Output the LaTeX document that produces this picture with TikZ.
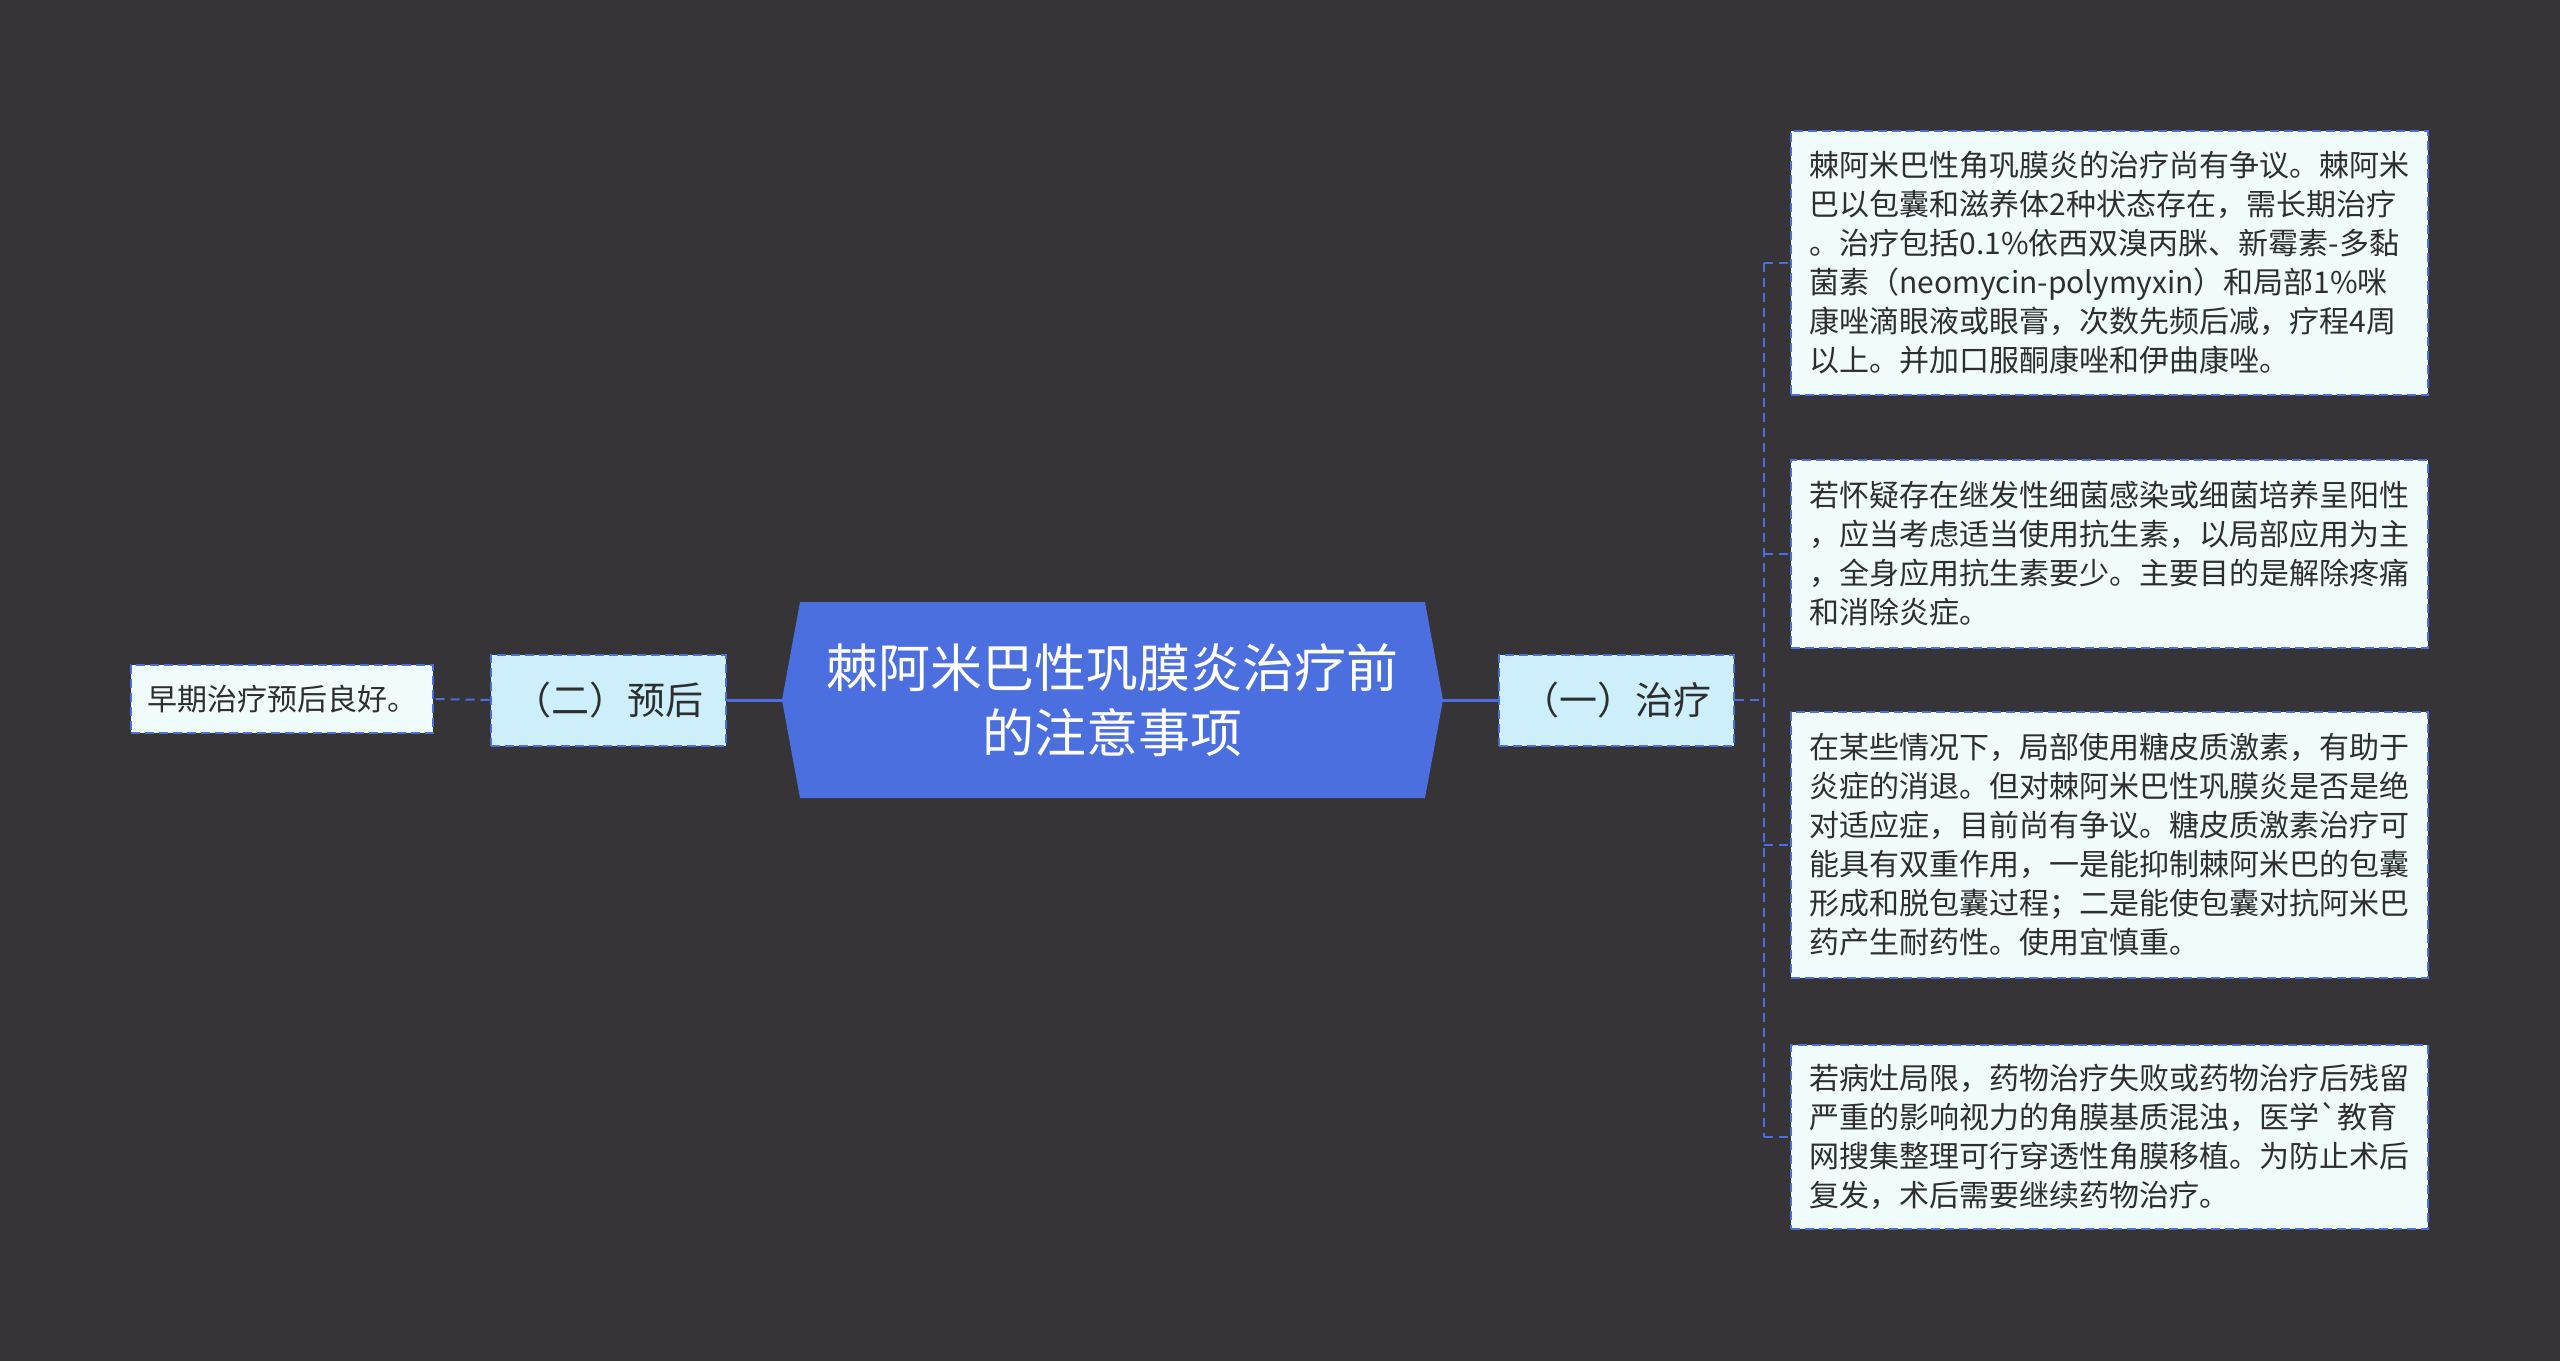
\documentclass[tikz,border=0pt]{standalone}
\usepackage{fontspec}
\setmainfont{Noto Sans CJK SC}
\newfontfamily\rawfont{Noto Sans CJK SC}
\usetikzlibrary{calc}
\definecolor{bg}{HTML}{363436}
\definecolor{lineblue}{HTML}{4A6EDD}
\definecolor{centerblue}{HTML}{4B6FDF}
\definecolor{mainfill}{HTML}{CDEFFC}
\definecolor{leaffill}{HTML}{F0FBFC}
\definecolor{txt}{HTML}{2E2E2E}
\tikzset{
  dashborder/.style={draw=lineblue, line width=2pt, dash pattern=on 9pt off 5pt},
  mainbox/.style={dashborder, fill=mainfill, minimum width=235pt, minimum height=91pt, inner sep=0pt, text=txt, font=\fontsize{38}{46}\selectfont},
  leafbox/.style={dashborder, fill=leaffill, minimum width=637pt, inner sep=0pt, text=txt, align=left, font=\fontsize{30}{39}\selectfont},
  solidconn/.style={draw=lineblue, line width=3pt},
  dashconn/.style={draw=lineblue, line width=2pt, dash pattern=on 9pt off 6pt},
}
\begin{document}
\begin{tikzpicture}[x=1pt,y=-1pt]
\fill[bg] (0,0) rectangle (2560,1361);
\useasboundingbox (0,0) rectangle (2560,1361);

% center hexagon
\fill[centerblue] (800,602) -- (1425,602) -- (1443,700) -- (1425,798) -- (800,798) -- (782,700) -- cycle;
\node[minimum width=661pt, minimum height=196pt, inner sep=0pt, text=white, align=center,
      font=\fontsize{52}{65}\selectfont] (c) at (1112.5,700)
  {棘阿米巴性巩膜炎治疗前\\的注意事项};

% main branches
\node[mainbox] (t2) at (608,700) {（二）预后};
\node[mainbox] (t1) at (1616.5,700) {（一）治疗};

% left leaf
\node[leafbox, minimum width=302pt, minimum height=68pt] (l0) at (282,699) {早期治疗预后良好。};

% right leaves
\node[leafbox, minimum height=264pt] (b1) at (2109.5,263) {棘阿米巴性角巩膜炎的治疗尚有争议。棘阿米\\
巴以包囊和滋养体2种状态存在，需长期治疗\\
。治疗包括0.1\%依西双溴丙脒、新霉素-多黏\\
菌素（neomycin-polymyxin）和局部1\%咪\\
康唑滴眼液或眼膏，次数先频后减，疗程4周\\
以上。并加口服酮康唑和伊曲康唑。};

\node[leafbox, minimum height=188pt] (b2) at (2109.5,554) {若怀疑存在继发性细菌感染或细菌培养呈阳性\\
，应当考虑适当使用抗生素，以局部应用为主\\
，全身应用抗生素要少。主要目的是解除疼痛\\
和消除炎症。};

\node[leafbox, minimum height=266pt] (b3) at (2109.5,845) {在某些情况下，局部使用糖皮质激素，有助于\\
炎症的消退。但对棘阿米巴性巩膜炎是否是绝\\
对适应症，目前尚有争议。糖皮质激素治疗可\\
能具有双重作用，一是能抑制棘阿米巴的包囊\\
形成和脱包囊过程；二是能使包囊对抗阿米巴\\
药产生耐药性。使用宜慎重。};

\node[leafbox, minimum height=184pt] (b4) at (2109.5,1137) {若病灶局限，药物治疗失败或药物治疗后残留\\
严重的影响视力的角膜基质混浊，医学{\rawfont`}教育\\
网搜集整理可行穿透性角膜移植。为防止术后\\
复发，术后需要继续药物治疗。};

% connectors
\draw[solidconn] (c.west) -- (t2.east);
\draw[solidconn] (c.east) -- (t1.west);
\draw[dashconn] (t2.west) -- (l0.east);
\coordinate (br) at ($(t1.east)+(29,0)$);
\draw[dashconn] (t1.east) -- (br);
\draw[dashconn] (br |- b1.west) -- (br |- b4.west);
\foreach \b in {b1,b2,b3,b4} {
  \draw[dashconn] (br |- \b.west) -- (\b.west);
}
\end{tikzpicture}
\end{document}
